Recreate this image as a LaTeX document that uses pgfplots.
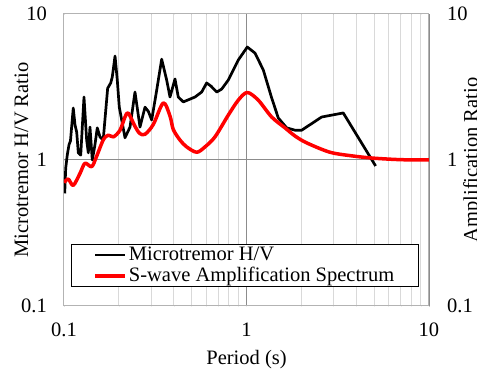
\documentclass[border=0pt]{standalone}
\usepackage{fontspec}
\setmainfont{Liberation Serif}
\usepackage{pgfplots}
\pgfplotsset{compat=1.18}
\definecolor{framegray}{HTML}{B3B3B3}
\definecolor{majgray}{HTML}{8C8C8C}
\definecolor{mingray}{HTML}{D9D9D9}
\definecolor{hvred}{HTML}{FF0000}
\begin{document}
\fontsize{20.5}{24}\selectfont
\begin{tikzpicture}
\begin{axis}[
  name=ax,
  width=365pt, height=292pt, scale only axis,
  xmode=log, ymode=log,
  xmin=0.1, xmax=10, ymin=0.1, ymax=10,
  xtick={0.1,1,10}, xticklabels={0.1,1,10},
  minor xtick={0.2,0.3,0.4,0.5,0.6,0.7,0.8,0.9,2,3,4,5,6,7,8,9},
  ytick={0.1,1,10}, yticklabels={0.1,1,10},
  minor ytick={1},
  grid=both,
  grid style={line width=1pt, mingray},
  major grid style={line width=1pt, majgray},
  minor grid style={line width=1pt, mingray},
  major tick length=0.01pt, minor tick length=0.01pt,
  axis line style={draw=framegray, line width=1pt},
  yticklabel style={anchor=east, inner sep=0pt, xshift=-17pt},
  xticklabel style={anchor=north, inner sep=0pt, yshift=-17pt},
  xlabel={Period (s)},
  xlabel style={at={(axis description cs:0.5,-0.202)}, anchor=base, inner sep=0pt},
  ylabel={Microtremor H/V Ratio},
  ylabel style={at={(axis description cs:-0.0986,0.5)}, anchor=base, rotate=0, inner sep=0pt},
  legend cell align=left,
  legend image code/.code={\draw[#1] (0pt,0pt) -- (30pt,0pt);},
  legend style={at={(axis description cs:0.019,0.212)}, anchor=north west,
    draw=black, fill=white, line width=1pt, inner xsep=22pt, inner ysep=0pt},
]
\addplot[black, line width=2.7pt, line join=round] coordinates {
(0.1009,0.59) (0.1022,0.88) (0.1042,1.08) (0.1065,1.27) (0.1085,1.35)
(0.1124,2.27) (0.1149,1.74) (0.1174,1.55) (0.1198,1.12) (0.1235,1.08)
(0.1287,2.70) (0.1331,1.37) (0.1359,1.12) (0.1388,1.68) (0.1429,1.00)
(0.1475,1.25) (0.1522,1.66) (0.1575,1.44) (0.164,1.37) (0.1735,3.10)
(0.1803,3.37) (0.1839,3.70) (0.1904,5.15) (0.1959,3.53) (0.2009,2.30)
(0.2060,1.95) (0.2159,1.42) (0.23,1.68) (0.2449,2.92) (0.2609,1.68)
(0.2779,2.30) (0.29,2.15) (0.3024,1.88) (0.322,3.0) (0.343,4.90)
(0.3653,3.53) (0.381,2.70) (0.4057,3.59) (0.4229,2.70) (0.4506,2.50)
(0.5223,2.70) (0.568,2.92) (0.605,3.37) (0.64,3.20) (0.687,2.92)
(0.7313,3.06) (0.795,3.53) (0.9017,4.84) (1.01,5.94) (1.113,5.40)
(1.236,4.14) (1.374,2.66) (1.494,1.94) (1.661,1.66) (1.845,1.60)
(2.006,1.60) (2.582,1.97) (3.39,2.10) (5.10,0.91)
};
\addlegendentry{Microtremor H/V}
\addplot[hvred, line width=3.5pt, smooth, line join=round] coordinates {
(0.1,0.70) (0.1056,0.74) (0.1124,0.67) (0.1224,0.81) (0.1303,0.95)
(0.1418,0.90) (0.1505,1.05) (0.164,1.37) (0.1748,1.48) (0.1867,1.44)
(0.2027,1.60) (0.2159,1.97) (0.2249,2.10) (0.2449,1.70) (0.26,1.52)
(0.2779,1.50) (0.3085,1.75) (0.35,2.46) (0.381,2.0) (0.397,1.62)
(0.432,1.37) (0.47,1.23) (0.5335,1.13) (0.5925,1.23) (0.672,1.44)
(0.795,2.03) (0.9017,2.57) (1.01,2.90) (1.16,2.57) (1.374,1.97)
(1.625,1.66) (1.845,1.46) (2.137,1.31) (2.868,1.13) (3.834,1.065)
(4.93,1.03) (7,1.005) (10,1.0)
};
\addlegendentry{S-wave Amplification Spectrum}
\end{axis}
\begin{axis}[
  width=365pt, height=292pt, scale only axis,
  ymode=log, ymin=0.1, ymax=10, xmin=0, xmax=1,
  axis x line=none, axis y line*=right,
  ytick={0.1,1,10}, yticklabels={0.1,1,10},
  major tick length=0.01pt, minor tick length=0.01pt,
  axis line style={draw=majgray, line width=1pt, -},
  yticklabel style={anchor=west, inner sep=0pt, xshift=18pt},
  ylabel={Amplification Ratio},
  ylabel style={at={(axis description cs:1.133,0.5)}, anchor=base, rotate=0, inner sep=0pt},
]
\end{axis}
\pgfresetboundingbox
\path ([shift={(-64pt,-64pt)}]ax.south west) rectangle ([shift={(48pt,14pt)}]ax.north east);
\end{tikzpicture}
\end{document}
